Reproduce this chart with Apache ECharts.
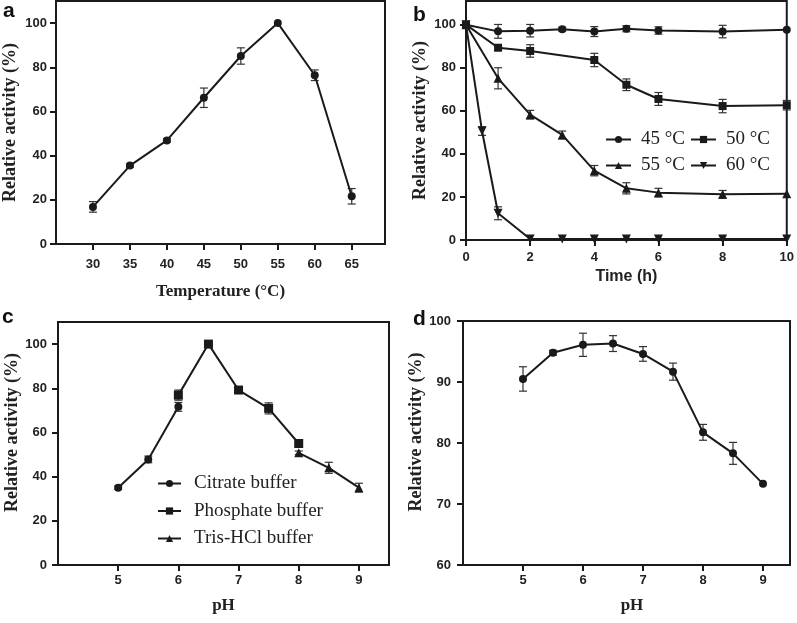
<!DOCTYPE html>
<html><head><meta charset="utf-8">
<script src="https://cdn.jsdelivr.net/npm/echarts@6/dist/echarts.min.js"></script>
<style>html,body{margin:0;padding:0;background:#fff}#c{width:797px;height:623px}</style>
</head><body><div id="c"></div>
<script>
// ---- Panel a: temperature optimum ----
const tempX = [30, 35, 40, 45, 50, 55, 60, 65];
const tempY = [16.8, 35.5, 46.9, 66.2, 85.1, 100, 76.4, 21.6];
const tempErr = [2.4, 0.8, 0.8, 4.4, 3.7, 0, 2.4, 3.5];
const tempTicks = [30, 35, 40, 45, 50, 55, 60, 65];

// ---- Panel b: thermal stability ----
const t45X = [0, 1, 2, 3, 4, 5, 6, 8, 10];
const t45 = [100, 96.9, 97.2, 97.9, 96.8, 98.1, 97.3, 96.8, 97.6];
const t45Err = [0, 3.2, 2.9, 0.9, 2.3, 1.4, 1.7, 2.9, 0];
const t50X = [0, 1, 2, 4, 5, 6, 8, 10];
const t50 = [100, 89.3, 87.8, 83.6, 72.1, 65.5, 62.2, 62.6];
const t50Err = [0, 1.1, 2.9, 3.1, 2.7, 3.0, 3.1, 2.2];
const t55X = [0, 1, 2, 3, 4, 5, 6, 8, 10];
const t55 = [100, 75.1, 58.2, 48.8, 32.2, 24.0, 22.0, 21.2, 21.5];
const t55Err = [0, 4.9, 2.0, 1.8, 2.4, 2.6, 2.0, 1.8, 0];
const t60X = [0, 0.5, 1, 2, 3, 4, 5, 6, 8, 10];
const t60 = [100, 50.6, 12.4, 0.5, 0.5, 0.5, 0.5, 0.5, 0.5, 0.5];
const t60Err = [0, 2, 3, 0, 0, 0, 0, 0, 0, 0];
const timeTicks = [0, 2, 4, 6, 8, 10];

// ---- Panel c: pH optimum ----
const citX = [5, 5.5, 6];
const cit = [35, 47.8, 71.6];
const citErr = [0.8, 1.5, 2.0];
const phoX = [6, 6.5, 7, 7.5, 8];
const pho = [76.9, 100, 79.2, 70.9, 55];
const phoErr = [2.3, 0, 1.0, 2.5, 1.0];
const trisX = [8, 8.5, 9];
const tris = [50.8, 44, 35];
const trisErr = [0.8, 2.5, 2.0];
const phTicks = [5, 6, 7, 8, 9];

// ---- Panel d: pH stability ----
const stX = [5, 5.5, 6, 6.5, 7, 7.5, 8, 8.5, 9];
const st = [90.5, 94.8, 96.1, 96.3, 94.6, 91.7, 81.75, 78.3, 73.3];
const stErr = [2.0, 0.4, 1.9, 1.3, 1.2, 1.4, 1.3, 1.8, 0];

const yTicks100 = [0, 20, 40, 60, 80, 100];
const yTicksD = [60, 70, 80, 90, 100];

const INK = '#1a1a1a';
const SANS = 'Liberation Sans, Arial, sans-serif';
const SERIF = 'Liberation Serif, Times New Roman, serif';

function pairs(xs, ys) { return xs.map((x, i) => [x, ys[i]]); }
function errData(xs, ys, es) { return xs.map((x, i) => [x, ys[i] - es[i], ys[i] + es[i]]); }

function errRender(params, api) {
  const x = api.value(0), lo = api.value(1), hi = api.value(2);
  if (hi - lo <= 0.01) return null;
  const p1 = api.coord([x, hi]), p2 = api.coord([x, lo]);
  const w = 4;
  const s = { stroke: '#333', lineWidth: 1.2 };
  return { type: 'group', children: [
    { type: 'line', shape: { x1: p1[0], y1: p1[1], x2: p2[0], y2: p2[1] }, style: s },
    { type: 'line', shape: { x1: p1[0] - w, y1: p1[1], x2: p1[0] + w, y2: p1[1] }, style: s },
    { type: 'line', shape: { x1: p2[0] - w, y1: p2[1], x2: p2[0] + w, y2: p2[1] }, style: s }
  ]};
}

function xAx(gi, min, max, ticks, name, nameStyle, nameGap, margin) {
  return {
    type: 'value', gridIndex: gi, min: min, max: max,
    axisLine: { show: true, onZero: false, lineStyle: { color: INK, width: 2 } },
    axisTick: { show: true, length: 6, customValues: ticks, lineStyle: { color: INK, width: 2 } },
    axisLabel: { customValues: ticks, margin: margin, fontFamily: SANS, fontWeight: 'bold', fontSize: 13, color: '#222' },
    splitLine: { show: false },
    name: name, nameLocation: 'middle', nameGap: nameGap, nameTextStyle: nameStyle
  };
}
function yAx(gi, min, max, ticks, margin, pad) {
  return {
    type: 'value', gridIndex: gi, min: min, max: max,
    axisLine: { show: true, onZero: false, lineStyle: { color: INK, width: 2 } },
    axisTick: { show: true, length: 6, customValues: ticks, lineStyle: { color: INK, width: 2 } },
    axisLabel: { customValues: ticks, margin: margin, fontFamily: SANS, fontWeight: 'bold', fontSize: 13, color: '#222' },
    splitLine: { show: false },
    name: 'Relative activity (%)', nameLocation: 'middle', nameGap: 37,
    nameTextStyle: { fontFamily: SERIF, fontWeight: 'bold', fontSize: 18, color: '#222', padding: pad }
  };
}
const serifTitle = { fontFamily: SERIF, fontWeight: 'bold', fontSize: 17, color: '#222' };
const serifTitleD = { fontFamily: SERIF, fontWeight: 'bold', fontSize: 17, color: '#222', padding: [0, 0, 0, 11] };
const sansTitle = { fontFamily: SANS, fontWeight: 'bold', fontSize: 16, color: '#222' };

function lineS(name, gi, data, symbol, size, rot) {
  return {
    type: 'line', name: name, xAxisIndex: gi, yAxisIndex: gi, data: data,
    symbol: symbol, symbolSize: size, symbolRotate: rot || 0, showAllSymbol: true,
    lineStyle: { color: INK, width: 2 }, itemStyle: { color: INK }, z: 3, animation: false
  };
}
function errS(gi, data) {
  return { type: 'custom', xAxisIndex: gi, yAxisIndex: gi, data: data, renderItem: errRender,
    encode: { x: 0, y: [1, 2] }, z: 2, animation: false, silent: true };
}

const grid = (l, t, w, h) => ({ left: l, top: t, width: w, height: h, show: true,
  borderColor: INK, borderWidth: 2, backgroundColor: 'transparent', containLabel: false });

const legendText = (padL) => ({ fontFamily: SERIF, fontSize: 19, color: '#222', padding: [0, 0, 0, padL] });

const option = {
  animation: false,
  grid: [grid(56, 1, 329, 243), grid(466, 1, 321, 239), grid(58, 322, 331, 243), grid(463, 321, 327, 244)],
  xAxis: [
    xAx(0, 25, 69.5, tempTicks, 'Temperature (°C)', serifTitle, 39, 14),
    xAx(1, 0, 10, timeTicks, 'Time (h)', sansTitle, 29, 11),
    xAx(2, 4, 9.5, phTicks, 'pH', serifTitle, 32, 9),
    xAx(3, 4, 9.45, phTicks, 'pH', serifTitleD, 32, 9)
  ],
  yAxis: [
    yAx(0, 0, 110, yTicks100, 9, 0),
    yAx(1, 0, 111, yTicks100, 10, 0),
    yAx(2, 0, 110, yTicks100, 11, [0, 0, 0, 22]),
    yAx(3, 60, 100, yTicksD, 12, [0, 0, 0, 22])
  ],
  legend: [
    { data: ['45 °C', '50 °C'], left: 605, top: 130, padding: 0, itemWidth: 25, itemHeight: 9, itemGap: 5,
      selectedMode: false, textStyle: legendText(5) },
    { data: ['55 °C', '60 °C'], left: 605, top: 156, padding: 0, itemWidth: 25, itemHeight: 9, itemGap: 5,
      selectedMode: false, textStyle: legendText(5) },
    { data: ['Citrate buffer', 'Phosphate buffer', 'Tris-HCl buffer'], orient: 'vertical', left: 157, top: 474,
      padding: 0, itemWidth: 23, itemHeight: 9, itemGap: 8.5, selectedMode: false, textStyle: legendText(8) }
  ],
  graphic: [
    { type: 'text', left: 3, top: 1, style: { text: 'a', font: 'bold 21px ' + SANS, fill: '#111' } },
    { type: 'text', left: 413, top: 5, style: { text: 'b', font: 'bold 21px ' + SANS, fill: '#111' } },
    { type: 'text', left: 2, top: 307, style: { text: 'c', font: 'bold 21px ' + SANS, fill: '#111' } },
    { type: 'text', left: 413, top: 309, style: { text: 'd', font: 'bold 21px ' + SANS, fill: '#111' } }
  ],
  series: [
    errS(0, errData(tempX, tempY, tempErr)),
    lineS('temp', 0, pairs(tempX, tempY), 'circle', 8),

    errS(1, errData(t45X, t45, t45Err)),
    errS(1, errData(t50X, t50, t50Err)),
    errS(1, errData(t55X, t55, t55Err)),
    errS(1, errData(t60X, t60, t60Err)),
    lineS('45 °C', 1, pairs(t45X, t45), 'circle', 8),
    lineS('50 °C', 1, pairs(t50X, t50), 'rect', 8),
    lineS('55 °C', 1, pairs(t55X, t55), 'triangle', 9),
    lineS('60 °C', 1, pairs(t60X, t60), 'triangle', 9, 180),

    errS(2, errData(citX, cit, citErr)),
    errS(2, errData(phoX, pho, phoErr)),
    errS(2, errData(trisX, tris, trisErr)),
    lineS('Citrate buffer', 2, pairs(citX, cit), 'circle', 8),
    lineS('Phosphate buffer', 2, pairs(phoX, pho), 'rect', 9),
    lineS('Tris-HCl buffer', 2, pairs(trisX, tris), 'triangle', 9),

    errS(3, errData(stX, st, stErr)),
    lineS('stab', 3, pairs(stX, st), 'circle', 8)
  ]
};
const chart = echarts.init(document.getElementById('c'), null, { renderer: 'canvas' });
chart.setOption(option);
</script>
</body></html>
